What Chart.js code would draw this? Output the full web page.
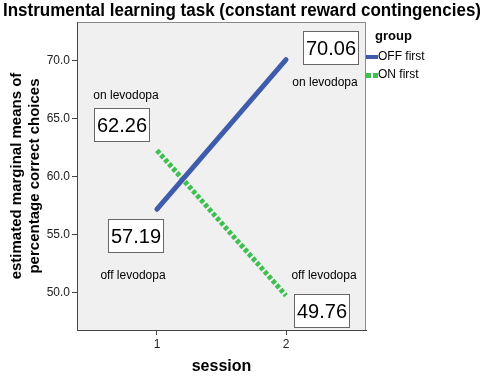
<!DOCTYPE html>
<html><head><meta charset="utf-8">
<script src="https://cdn.jsdelivr.net/npm/chart.js@4"></script>
<style>html,body{margin:0;padding:0;background:#fff}canvas{display:block}</style>
</head><body>
<canvas id="c" width="484" height="376"></canvas>
<script>
// ---- data ----
const sessions = [1, 2];
const offFirst = [57.19, 70.06];
const onFirst = [62.26, 49.76];
const seriesNames = ['OFF first', 'ON first'];
const offFirstStates = ['off levodopa', 'on levodopa'];
const onFirstStates = ['on levodopa', 'off levodopa'];
const yTicks = [50, 55, 60, 65, 70];
const xTicks = [1, 2];
const titleText = 'Instrumental learning task (constant reward contingencies)';
const yTitle = ['estimated marginal means of', 'percentage correct choices'];
const xTitle = 'session';
const legendTitle = 'group';

const FONT = "'Liberation Sans', Arial, sans-serif";
const BLUE = '#3f5bab';
const GREEN = '#3ec04f';

const stateLabels = [offFirstStates, onFirstStates];
// offsets (px) of value boxes and state labels from each point
const boxOffsets = [[[-21, 27], [45, -12]], [[-35, -25], [36, 15]]];
const textOffsets = [[[-24, 66], [39, 23]], [[-31, -55], [38, -20]]];

const bgPlugin = {
  id: 'bg',
  beforeDraw(chart) {
    const {ctx, chartArea: a} = chart;
    ctx.save();
    ctx.fillStyle = '#f0f0f0';
    ctx.fillRect(a.left, a.top, a.right - a.left, a.bottom - a.top);
    ctx.strokeStyle = '#8a8a8a';
    ctx.lineWidth = 1;
    ctx.strokeRect(a.left + 0.5, a.top + 0.5, a.right - a.left - 1, a.bottom - a.top);
    // title
    ctx.fillStyle = '#000';
    ctx.font = 'bold 18px ' + FONT;
    ctx.textAlign = 'center';
    ctx.textBaseline = 'middle';
    const w = ctx.measureText(titleText).width;
    const sx = 478 / w;
    ctx.translate(chart.width / 2, 11);
    ctx.scale(sx, 1);
    ctx.fillText(titleText, 0, 0);
    ctx.restore();
  }
};

const annPlugin = {
  id: 'ann',
  afterDraw(chart) {
    const {ctx} = chart;
    const xs = chart.scales.x, ys = chart.scales.y;
    ctx.save();
    chart.data.datasets.forEach((ds, i) => {
      ds.data.forEach((p, j) => {
        const px = xs.getPixelForValue(p.x), py = ys.getPixelForValue(p.y);
        const [bx, by] = boxOffsets[i][j];
        const cx = Math.round(px + bx), cy = Math.round(py + by);
        ctx.fillStyle = '#fff';
        ctx.fillRect(cx - 28, cy - 17, 56, 34);
        ctx.strokeStyle = '#666';
        ctx.lineWidth = 1;
        ctx.strokeRect(cx - 27.5, cy - 16.5, 55, 33);
        ctx.fillStyle = '#000';
        ctx.font = '20px ' + FONT;
        ctx.textAlign = 'center';
        ctx.textBaseline = 'middle';
        ctx.fillText(p.y.toFixed(2), cx, cy + 1);
        const [tx, ty] = textOffsets[i][j];
        ctx.font = '12px ' + FONT;
        ctx.fillText(stateLabels[i][j], px + tx, py + ty);
      });
    });
    // legend
    const lx = chart.chartArea.right;
    ctx.textAlign = 'left';
    ctx.textBaseline = 'middle';
    ctx.fillStyle = '#000';
    ctx.font = 'bold 13px ' + FONT;
    ctx.fillText(legendTitle, lx + 9, 36);
    ctx.font = '12px ' + FONT;
    chart.data.datasets.forEach((ds, i) => {
      const y = 57 + i * 18;
      ctx.fillStyle = ds.borderColor;
      if (i === 0) {
        ctx.fillRect(lx, y - 2, 12, 4);
      } else {
        ctx.fillRect(lx, y - 2, 5, 5);
        ctx.fillRect(lx + 7, y - 2, 5, 5);
      }
      ctx.fillStyle = '#000';
      ctx.fillText(ds.label, lx + 12, y);
    });
    ctx.restore();
  }
};

new Chart(document.getElementById('c'), {
  type: 'line',
  data: {
    datasets: [
      {
        label: seriesNames[0],
        data: sessions.map((s, k) => ({x: s, y: offFirst[k]})),
        borderColor: BLUE, backgroundColor: BLUE,
        borderWidth: 5, borderCapStyle: 'round', pointRadius: 0
      },
      {
        label: seriesNames[1],
        data: sessions.map((s, k) => ({x: s, y: onFirst[k]})),
        borderColor: GREEN, backgroundColor: GREEN,
        borderWidth: 5, borderDash: [4, 2], borderCapStyle: 'butt', pointRadius: 0
      }
    ]
  },
  options: {
    responsive: false,
    animation: false,
    devicePixelRatio: 1,
    layout: {padding: {top: 22, right: 118, left: 0, bottom: 0}},
    plugins: {
      legend: {display: false},
      tooltip: {enabled: false},
      title: {display: false}
    },
    scales: {
      x: {
        type: 'linear', min: 0.38, max: 2.62,
        afterBuildTicks(s) { s.ticks = xTicks.map(v => ({value: v})); },
        afterFit(s) { s.height = 46; },
        grid: {drawOnChartArea: false, tickLength: 5, color: '#444'},
        border: {color: '#444'},
        ticks: {color: '#222', font: {family: FONT, size: 12}, padding: 2, callback: v => String(v)},
        title: {display: true, text: xTitle, color: '#000', font: {family: FONT, size: 16, weight: 'bold'}, padding: {top: 8, bottom: 0}}
      },
      y: {
        type: 'linear', min: 46.8, max: 73.3,
        afterBuildTicks(s) { s.ticks = yTicks.map(v => ({value: v})); },
        afterFit(s) { s.width = 77; },
        grid: {drawOnChartArea: false, tickLength: 5, color: '#444'},
        border: {color: '#444'},
        ticks: {color: '#222', font: {family: FONT, size: 12}, padding: 2, callback: v => v.toFixed(1)},
        title: {display: true, text: yTitle, color: '#000', font: {family: FONT, size: 15, weight: 'bold'}, padding: {top: 8, bottom: 0}}
      }
    }
  },
  plugins: [bgPlugin, annPlugin]
});
</script>
</body></html>
